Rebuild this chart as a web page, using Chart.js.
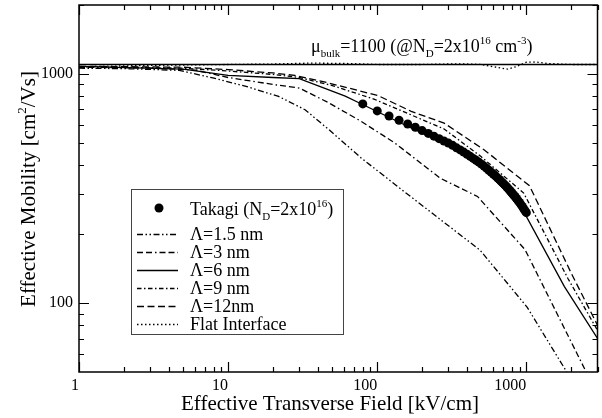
<!DOCTYPE html>
<html>
<head>
<meta charset="utf-8">
<script src="https://cdn.jsdelivr.net/npm/chart.js@4.4.0/dist/chart.umd.min.js"></script>
<style>
  html, body { margin: 0; padding: 0; background: #fff; }
  canvas { display: block; }
</style>
</head>
<body>
<canvas id="chart" width="602" height="418"></canvas>
<script>
// values (field in kV/cm, mobility in cm2/Vs)
const takagiField = [80, 100, 120, 140, 160, 180, 200, 220, 240, 260, 280, 300, 320, 340, 360, 380, 400, 420, 440, 460,
    480, 500, 520, 540, 560, 580, 600, 620, 640, 660, 680, 700, 720, 740, 760, 780, 800, 820, 840, 860, 880, 900, 920,
    940, 960, 980, 1000];
const takagiMu = [740, 690, 655, 628, 605, 585, 566, 550, 535, 522, 510, 499, 488, 476, 466, 456, 446, 437, 428, 420,
    412, 404, 396, 388, 380, 373, 366, 359, 352, 346, 339, 333, 327, 321, 315, 309, 303, 297, 292, 286, 280, 275, 269,
    264, 258, 253, 248];

const field15 = [1, 2, 4.7, 7.9, 13, 21.8, 32.8, 46.9, 78, 131, 490, 1011, 1866];
const mu15 = [1060, 1055, 1037, 961, 885, 798, 698, 575, 430, 330, 170, 96, 50];

const field3 = [1, 3, 6, 10, 20, 30, 47, 78, 131, 266, 470, 980, 2520];
const mu3 = [1070, 1062, 1040, 965, 900, 868, 750, 621, 500, 350, 292, 171, 50];

const field6 = [1, 5, 10, 20, 30, 61, 76, 169, 281, 469, 700, 985, 1800, 3000];
const mu6 = [1080, 1050, 985, 965, 955, 800, 747, 581, 500, 409, 316, 243, 118, 70];

const field9 = [1, 5, 10, 20, 30, 50, 96, 281, 494, 960, 1900, 3000];
const mu9 = [1075, 1060, 1030, 995, 965, 890, 775, 575, 437, 302, 128, 76];

const field12 = [1, 5, 10, 20, 28, 47, 101, 169, 281, 520, 1050, 2000, 3000];
const mu12 = [1080, 1070, 1045, 1010, 985, 914, 805, 687, 610, 467, 325, 135, 80];

const fieldFlat = [1, 3, 10, 20, 35, 60, 100, 200, 350, 500, 650, 750, 850, 1000, 1150, 1400, 2000, 3000];
const muFlat = [1075, 1090, 1100, 1105, 1115, 1112, 1100, 1100, 1108, 1100, 1065, 1050, 1075, 1125, 1128, 1110, 1100, 1100];

const bulkField = [1, 3000];
const bulkMu = [1100, 1100];

const xMajorTicks = [1, 10, 100, 1000];
const xMinorTicks = [2, 3, 4, 5, 6, 7, 8, 9, 20, 30, 40, 50, 60, 70, 80, 90, 200, 300, 400, 500, 600, 700, 800, 900, 2000, 3000];
const yMajorTicks = [100, 1000];
const yMinorTicks = [60, 70, 80, 90, 200, 300, 400, 500, 600, 700, 800, 900, 2000];

const FONT = '"Liberation Serif", "Times New Roman", serif';

const pts = (xs, ys) => xs.map((x, i) => ({ x: x, y: ys[i] }));

function lineSet(label, xs, ys, dash) {
    return {
        label: label,
        data: pts(xs, ys),
        showLine: true,
        borderColor: '#000',
        backgroundColor: '#000',
        borderWidth: 1.3,
        borderDash: dash,
        pointRadius: 0,
        tension: 0
    };
}

const datasets = [
    lineSet('Flat Interface', fieldFlat, muFlat, [1.5, 2.5]),
    lineSet('Λ=12nm', field12, mu12, [7, 3.5]),
    lineSet('Λ=9 nm', field9, mu9, [4.5, 2.5, 1.5, 2.5]),
    lineSet('Λ=6 nm', field6, mu6, []),
    lineSet('Λ=3 nm', field3, mu3, [6, 3, 6, 3, 1.5, 3]),
    lineSet('Λ=1.5 nm', field15, mu15, [6, 2.5, 1.5, 2.5, 1.5, 2.5]),
    lineSet('bulk', bulkField, bulkMu, []),
    {
        label: 'Takagi',
        data: pts(takagiField, takagiMu),
        showLine: false,
        pointRadius: 4.5,
        pointBackgroundColor: '#000',
        pointBorderWidth: 0
    }
];

// legend rows: [rich text parts, dataset index]
const legendRows = [
    [[['Takagi (N', 'n'], ['D', 'sub'], ['=2x10', 'n'], ['16', 'sup'], [')', 'n']], 7],
    [[['Λ=1.5 nm', 'n']], 5],
    [[['Λ=3 nm', 'n']], 4],
    [[['Λ=6 nm', 'n']], 3],
    [[['Λ=9 nm', 'n']], 2],
    [[['Λ=12nm', 'n']], 1],
    [[['Flat Interface', 'n']], 0]
];

function drawRich(ctx, parts, x, y, size, align) {
    const small = Math.round(size * 0.62);
    const widths = parts.map(([t, k]) => {
        ctx.font = (k === 'n' ? size : small) + 'px ' + FONT;
        return ctx.measureText(t).width;
    });
    const total = widths.reduce((a, b) => a + b, 0);
    let cx = align === 'center' ? x - total / 2 : x;
    parts.forEach(([t, k], i) => {
        ctx.font = (k === 'n' ? size : small) + 'px ' + FONT;
        const dy = k === 'sub' ? size * 0.3 : (k === 'sup' ? -size * 0.45 : 0);
        ctx.fillText(t, cx, y + dy);
        cx += widths[i];
    });
}

const decorPlugin = {
    id: 'decor',
    afterDraw(chart) {
        const ctx = chart.ctx;
        const a = chart.chartArea;
        const xs = chart.scales.x, ys = chart.scales.y;
        ctx.save();
        ctx.strokeStyle = '#000';
        ctx.fillStyle = '#000';

        // frame
        ctx.lineWidth = 1.5;
        ctx.strokeRect(a.left, a.top, a.right - a.left, a.bottom - a.top);

        // inward ticks on all four sides
        ctx.lineWidth = 1.2;
        const xTick = (v, len) => {
            const px = Math.round(xs.getPixelForValue(v)) + 0.5;
            ctx.beginPath();
            ctx.moveTo(px, a.bottom); ctx.lineTo(px, a.bottom - len);
            ctx.moveTo(px, a.top); ctx.lineTo(px, a.top + len);
            ctx.stroke();
        };
        const yTick = (v, len) => {
            const py = Math.round(ys.getPixelForValue(v)) + 0.5;
            ctx.beginPath();
            ctx.moveTo(a.left, py); ctx.lineTo(a.left + len, py);
            ctx.moveTo(a.right, py); ctx.lineTo(a.right - len, py);
            ctx.stroke();
        };
        xMajorTicks.forEach(v => xTick(v, 10));
        xMinorTicks.forEach(v => xTick(v, 5));
        yMajorTicks.forEach(v => yTick(v, 10));
        yMinorTicks.forEach(v => yTick(v, 5));

        // axis titles
        ctx.textBaseline = 'alphabetic';
        ctx.textAlign = 'left';
        drawRich(ctx, [['Effective Transverse Field [kV/cm]', 'n']], 330, 410, 21, 'center');
        ctx.save();
        ctx.translate(35, 189);
        ctx.rotate(-Math.PI / 2);
        drawRich(ctx, [['Effective Mobility [cm', 'n'], ['2', 'sup'], ['/Vs]', 'n']], 0, 0, 21, 'center');
        ctx.restore();

        // bulk mobility note
        drawRich(ctx, [['μ', 'n'], ['bulk', 'sub'], ['=1100 (@N', 'n'], ['D', 'sub'], ['=2x10', 'n'], ['16', 'sup'],
            [' cm', 'n'], ['-3', 'sup'], [')', 'n']], 311, 52, 18, 'left');

        // legend box
        const bx = 131, by = 189, bw = 212, bh = 145;
        ctx.fillStyle = '#fff';
        ctx.fillRect(bx, by, bw, bh);
        ctx.strokeStyle = '#444';
        ctx.lineWidth = 1;
        ctx.strokeRect(bx + 0.5, by + 0.5, bw, bh);
        ctx.fillStyle = '#000';
        ctx.strokeStyle = '#000';
        const rowY = [209, 234, 252, 270, 288, 306, 324];
        legendRows.forEach(([parts, di], i) => {
            const ds = chart.data.datasets[di];
            const y = rowY[i];
            if (ds.showLine) {
                ctx.lineWidth = ds.borderWidth;
                ctx.setLineDash(ds.borderDash);
                ctx.beginPath();
                ctx.moveTo(137, y + 0.5);
                ctx.lineTo(178, y + 0.5);
                ctx.stroke();
                ctx.setLineDash([]);
            } else {
                ctx.beginPath();
                ctx.arc(159, y - 1, 4.5, 0, Math.PI * 2);
                ctx.fill();
            }
            drawRich(ctx, parts, 190, y + 6, 18, 'left');
        });
        ctx.restore();
    }
};

new Chart(document.getElementById('chart'), {
    type: 'scatter',
    data: { datasets: datasets },
    options: {
        responsive: false,
        animation: false,
        devicePixelRatio: 1,
        layout: { padding: { top: 5, right: 1, left: 0, bottom: 0 } },
        plugins: { legend: { display: false }, tooltip: { enabled: false } },
        scales: {
            x: {
                type: 'logarithmic',
                min: 1,
                max: 3000,
                grid: { display: false, drawTicks: false, tickLength: 0 },
                border: { display: false },
                afterBuildTicks: s => { s.ticks = xMajorTicks.map(v => ({ value: v })); },
                afterFit: s => { s.height = 46; s.paddingLeft = 0; s.paddingRight = 0; },
                ticks: {
                    color: '#000',
                    font: { family: FONT, size: 16 },
                    align: 'end',
                    maxRotation: 0,
                    padding: 4,
                    callback: v => String(v)
                }
            },
            y: {
                type: 'logarithmic',
                min: 50,
                max: 2000,
                grid: { display: false, drawTicks: false, tickLength: 0 },
                border: { display: false },
                afterBuildTicks: s => { s.ticks = yMajorTicks.map(v => ({ value: v })); },
                afterFit: s => { s.width = 79; s.paddingTop = 0; s.paddingBottom = 0; },
                ticks: {
                    color: '#000',
                    font: { family: FONT, size: 16 },
                    padding: 6,
                    callback: v => String(v)
                }
            }
        }
    },
    plugins: [decorPlugin]
});
</script>
</body>
</html>
